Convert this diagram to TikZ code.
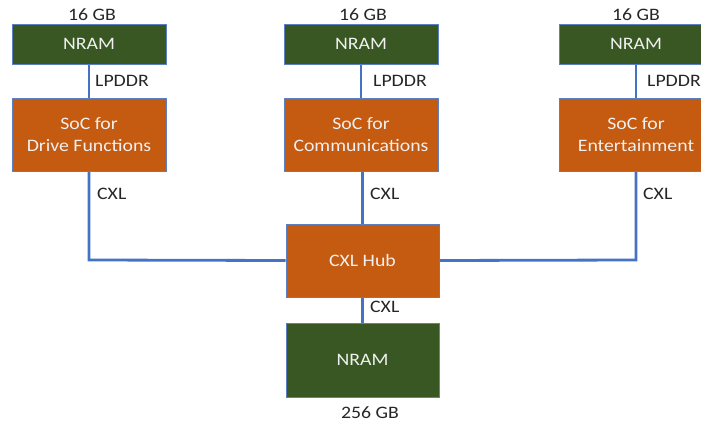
\documentclass[tikz,border=0pt]{standalone}
\usepackage{fontspec}
\setmainfont[FakeStretch=1.13]{Carlito}
\definecolor{nramgreen}{HTML}{385723}
\definecolor{socorange}{HTML}{C55A11}
\definecolor{linkblue}{HTML}{4472C4}
\definecolor{edgeblue}{HTML}{5B7FC0}
\definecolor{labelgray}{HTML}{262626}
\begin{document}
\begin{tikzpicture}[x=1pt,y=-1pt,
  box/.style={draw=edgeblue,line width=0.8pt,minimum width=154pt,text=white!94!black,font=\fontsize{17.5}{21.5}\selectfont,align=center,inner sep=0pt},
  nram/.style={box,fill=nramgreen,minimum height=40pt},
  soc/.style={box,fill=socorange,minimum height=73pt},
  bignram/.style={box,fill=nramgreen,minimum height=74pt},
  lbl/.style={text=labelgray,font=\fontsize{17.5}{21.5}\selectfont,inner sep=0pt},
  link/.style={draw=linkblue,line width=2.8pt}]
\useasboundingbox (0,0) rectangle (701,425);
\clip (0,0) rectangle (701,425);
\coordinate (lc) at (89,260);
\coordinate (rc) at (636,260);
\node[nram] (n1) at (89,44) {};
\node[soc] (s1) at (89,134.5) {};
\node[nram] (n2) at (361,44) {};
\node[soc] (s2) at (361,134.5) {};
\node[nram] (n3) at (636,44) {};
\node[soc] (s3) at (636,134.5) {};
\node[soc,minimum width=153pt] (hub) at (362.5,260.5) {};
\node[bignram,minimum width=153pt] (n4) at (362.5,360) {};
% connectors
\draw[link] (n1.south) -- (s1.north);
\draw[link] (n2.south) -- (s2.north);
\draw[link] (n3.south) -- (s3.north);
\draw[link] (s1.south) -- (lc) -- (hub.west);
\draw[link] (s3.south) -- (rc) -- (hub.east);
\draw[link] (hub.north) -- (hub.north |- s2.south);
\draw[link] (hub.south) -- (n4.north);
% boxes on top of line ends
\node[nram] at (n1) {NRAM};
\node[soc] at (s1) {SoC for\\Drive Functions};
\node[nram] at (n2) {NRAM};
\node[soc] at (s2) {SoC for\\Communications};
\node[nram] at (n3) {NRAM};
\node[soc] at (s3) {SoC for\\Entertainment};
\node[soc,minimum width=153pt] at (hub) {CXL Hub};
\node[bignram,minimum width=153pt] at (n4) {NRAM};
% labels
\node[lbl] (g1) at (92,15) {16 GB};
\node[lbl] (g2) at (363,15) {16 GB};
\node[lbl] (g3) at (636,15) {16 GB};
\node[lbl] (g4) at (370,413) {256 GB};
\node[lbl,anchor=west] (l1) at (95,81) {LPDDR};
\node[lbl,anchor=west] (l2) at (373,81) {LPDDR};
\node[lbl,anchor=west] (l3) at (647,81) {LPDDR};
\node[lbl,anchor=west] (c1) at (97,194) {CXL};
\node[lbl,anchor=west] (c2) at (370,194) {CXL};
\node[lbl,anchor=west] (c3) at (643,194) {CXL};
\node[lbl,anchor=west] (c4) at (370,307) {CXL};
\end{tikzpicture}
\end{document}
